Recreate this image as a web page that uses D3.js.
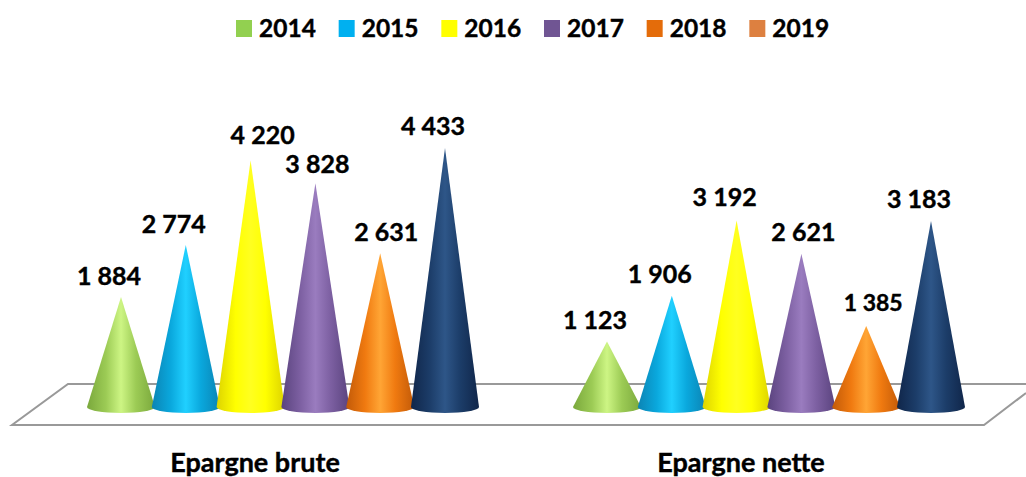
<!DOCTYPE html>
<html>
<head>
<meta charset="utf-8">
<script src="https://cdn.jsdelivr.net/npm/d3@7/dist/d3.min.js"></script>
<style>
  html, body { margin: 0; padding: 0; background: #fff; }
  svg { display: block; }
  text { font-family: Lato, sans-serif; font-weight: 700; fill: #000; stroke: #000; stroke-width: 0.4px; }
</style>
</head>
<body>
<div id="chart"></div>
<script>
const categories = ['Epargne brute', 'Epargne nette'];
const years = ['2014', '2015', '2016', '2017', '2018', '2019'];
const epargneBrute = [1884, 2774, 4220, 3828, 2631, 4433];
const epargneNette = [1123, 1906, 3192, 2621, 1385, 3183];
const seriesValues = [epargneBrute, epargneNette];

const legendColors = ['#92D050', '#00B0F0', '#FFFF00', '#705593', '#E46C0A', '#DD8040'];
// the last cone is navy in the picture although its legend swatch is orange
const coneEdge = ['#7AA83C', '#0B84B4', '#DDD400', '#5A437E', '#C25A08', '#10264A'];
const coneBase = ['#9CCB55', '#0AA8DD', '#FFFF00', '#7D60A2', '#F07A10', '#1C3D69'];
const coneMid = ['#CDF584', '#20D0FF', '#FFFF20', '#9A7CBF', '#FFA535', '#2E5688'];

const width = 1026, height = 477;

// hand placed labels in the original: offset from each cone's centre
const labelDx = [[-12, -12, 12, 2, 6, -12], [-12, -12, -12, 2, 7, -12]];
const labelDy = [[-12, -12, -16, -10, -12, -13], [-12, -13, -15, -13, -15, -13]];

const svg = d3.select('#chart').append('svg')
    .attr('width', width)
    .attr('height', height);

const defs = svg.append('defs');
years.forEach((y, i) => {
    const grad = defs.append('linearGradient')
        .attr('id', `cone-${y}`)
        .attr('x1', 0).attr('x2', 1).attr('y1', 0).attr('y2', 0);
    grad.append('stop').attr('offset', '0%').attr('stop-color', coneEdge[i]);
    grad.append('stop').attr('offset', '28%').attr('stop-color', coneBase[i]);
    grad.append('stop').attr('offset', '50%').attr('stop-color', coneMid[i]);
    grad.append('stop').attr('offset', '72%').attr('stop-color', coneBase[i]);
    grad.append('stop').attr('offset', '100%').attr('stop-color', coneEdge[i]);
});

// Scales
const xGroup = d3.scaleBand().domain(categories).range([40, 1012]);
const xYear = d3.scaleBand().domain(years).range([-194.4, 194.4]);
const yScale = d3.scaleLinear().domain([0, 4433]).range([407, 148]);

// Floor
const floor = svg.append('g')
    .attr('fill', 'none')
    .attr('stroke', '#999')
    .attr('stroke-width', 2);
floor.append('path').attr('d', 'M1026,384H68L12,425H984L1026,393');

// Cones
const rx = 34, ry = 6;
const chart = svg.append('g');
categories.forEach((cat, c) => {
    const g = chart.append('g')
        .attr('transform', `translate(${xGroup(cat) + xGroup.bandwidth() / 2},0)`);

    g.selectAll('.cone')
        .data(seriesValues[c])
        .join('path')
            .attr('class', 'cone')
            .attr('fill', (d, i) => `url(#cone-${years[i]})`)
            .attr('d', (d, i) => {
                const cx = xYear(years[i]) + xYear.bandwidth() / 2;
                return `M${cx},${yScale(d)}L${cx + rx},${yScale(0)}A${rx},${ry} 0 0 1 ${cx - rx},${yScale(0)}Z`;
            });

    g.selectAll('.val')
        .data(seriesValues[c])
        .join('text')
            .attr('class', 'val')
            .attr('text-anchor', 'middle')
            .attr('font-size', (d, i) => (c === 1 && i === 4) ? 23 : 25)
            .attr('x', (d, i) => xYear(years[i]) + xYear.bandwidth() / 2 + labelDx[c][i])
            .attr('y', (d, i) => yScale(d) + labelDy[c][i])
            .text(d => d3.format(',')(d).replace(',', ' '));

    g.append('text')
        .attr('text-anchor', 'middle')
        .attr('font-size', 27)
        .attr('x', -28)
        .attr('y', 472)
        .text(cat);
});

// Legend
const legendX = d3.scaleBand().domain(years).range([236, 852]);
const legend = svg.append('g').selectAll('g')
    .data(years)
    .join('g')
        .attr('transform', d => `translate(${legendX(d)},20)`);
legend.append('rect')
    .attr('width', 16)
    .attr('height', 17)
    .attr('fill', (d, i) => legendColors[i]);
legend.append('text')
    .attr('x', 23)
    .attr('y', 16.5)
    .attr('font-size', 24.5)
    .text(d => d);
</script>
</body>
</html>
